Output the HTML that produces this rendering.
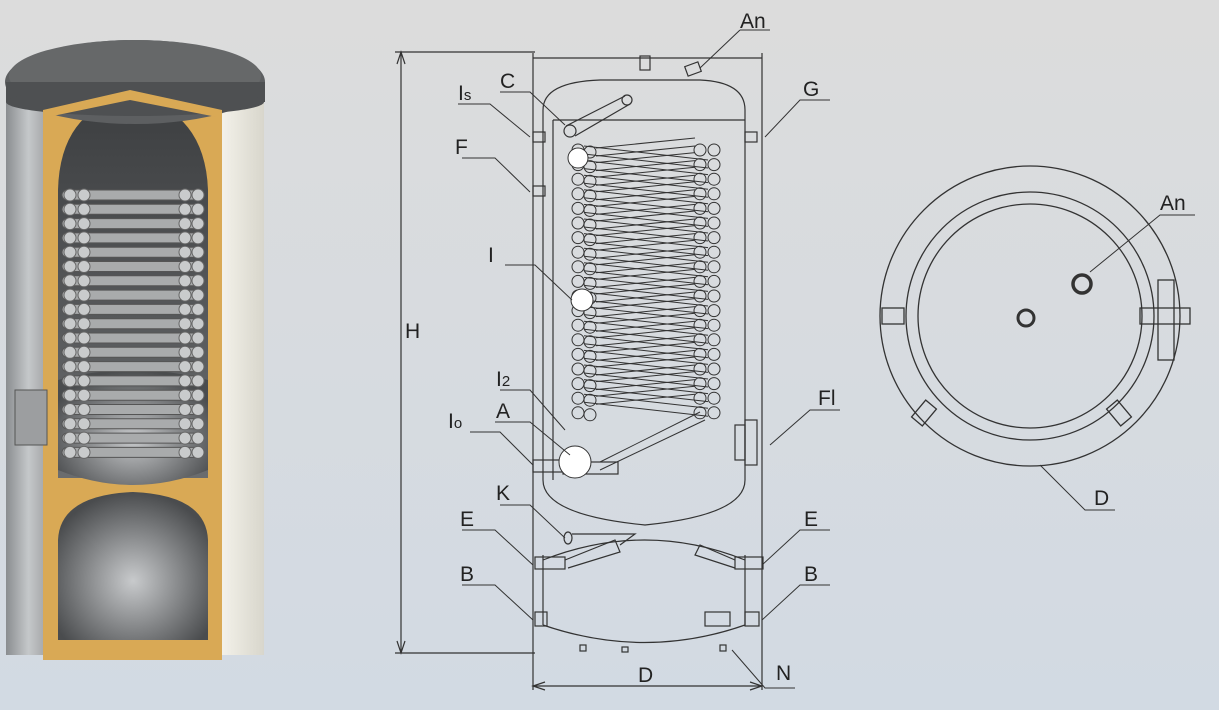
<!DOCTYPE html>
<html><head><meta charset="utf-8"><style>
html,body{margin:0;padding:0}
body{width:1219px;height:710px;overflow:hidden;background:linear-gradient(#dcdcdc,#d2dae3);font-family:"Liberation Sans",sans-serif}
svg{position:absolute;left:0;top:0}
text{font-family:"Liberation Sans",sans-serif;font-size:21px;fill:#222}
</style></head><body>
<svg width="1219" height="710" viewBox="0 0 1219 710" id="s">
<defs>
<linearGradient id="side" x1="0" x2="1"><stop offset="0" stop-color="#8a8d90"/><stop offset="0.5" stop-color="#c5c8ca"/><stop offset="1" stop-color="#9a9c9e"/></linearGradient>
<linearGradient id="white" x1="0" x2="1"><stop offset="0" stop-color="#f4f2ea"/><stop offset="1" stop-color="#d8d6cc"/></linearGradient>
<linearGradient id="cav" x1="0" x2="0" y1="0" y2="1"><stop offset="0" stop-color="#3c3e40"/><stop offset="1" stop-color="#6a6c6e"/></linearGradient>
<radialGradient id="dome" cx="0.5" cy="0.6" r="0.6"><stop offset="0" stop-color="#c8cacc"/><stop offset="1" stop-color="#4a4c4e"/></radialGradient>
</defs>
<!-- left 3D tank -->
<rect x="6" y="85" width="45" height="570" fill="url(#side)"/>
<rect x="220" y="85" width="44" height="570" fill="url(#white)"/>
<path d="M43 95 L130 80 L222 95 L222 660 L43 660 Z" fill="#d9a955"/>
<path d="M58 190 Q60 110 130 95 Q205 110 208 190 L208 478 L58 478 Z" fill="url(#cav)"/>
<path d="M58 380 Q133 360 208 380 L208 470 Q133 500 58 470 Z" fill="url(#dome)"/>
<path d="M58 540 Q60 495 133 492 Q206 495 208 540 L208 640 L58 640 Z" fill="url(#dome)"/>
<g id="coil3d"></g>
<rect x="15" y="390" width="32" height="55" fill="#9c9ea0" stroke="#555"/>
<ellipse cx="135" cy="82" rx="130" ry="42" fill="#5d5f61"/>
<ellipse cx="135" cy="76" rx="126" ry="36" fill="#666869"/>
<rect x="6" y="82" width="259" height="20" fill="#4e5052"/>
<ellipse cx="135" cy="102" rx="129" ry="14" fill="#4e5052"/>
<path d="M43 110 L130 90 L222 110 L222 118 L130 100 L43 118Z" fill="#d9a955"/>

<!-- middle drawing -->
<g fill="none" stroke="#333" stroke-width="1.2">
<line x1="395" y1="52" x2="535" y2="52"/><line x1="395" y1="653" x2="535" y2="653"/>
<line x1="401" y1="52" x2="401" y2="653"/>
<path d="M397 64 L401 52 L405 64 M397 641 L401 653 L405 641"/>
<line x1="533" y1="53" x2="533" y2="690"/><line x1="762" y1="53" x2="762" y2="690"/>
<line x1="533" y1="686" x2="762" y2="686"/>
<path d="M545 682 L533 686 L545 690 M750 682 L762 686 L750 690"/>
<path d="M533 58 L762 58"/>
<path d="M543 110 Q543 82 600 80 L700 80 Q745 82 745 110 L745 480 Q745 515 645 525 Q543 515 543 480 Z"/>
<line x1="553" y1="120" x2="553" y2="480"/>
<path d="M553 120 L745 120"/>
<path d="M543 560 Q645 520 745 560 M543 555 L543 625 M745 555 L745 625 M543 625 Q645 660 745 625"/>
<rect x="640" y="56" width="10" height="14"/><rect x="686" y="64" width="14" height="10" transform="rotate(-20 693 69)"/>
<rect x="533" y="132" width="12" height="10"/><rect x="745" y="132" width="12" height="10"/>
<rect x="533" y="186" width="12" height="10"/>
<rect x="533" y="460" width="30" height="12"/>
<circle cx="570" cy="131" r="6"/><path d="M566 126 L625 96 M575 136 L630 104"/><circle cx="627" cy="100" r="5"/>
<rect x="535" y="557" width="30" height="12"/><rect x="735" y="557" width="28" height="12"/>
<rect x="535" y="612" width="12" height="14"/><rect x="745" y="612" width="14" height="14"/>
<path d="M565 560 L615 540 L620 552 L568 568"/><path d="M735 560 L700 545 L695 555 L735 568"/>
<ellipse cx="568" cy="538" rx="4" ry="6"/><path d="M572 534 L635 534 L620 545"/>
<rect x="705" y="612" width="25" height="14"/>
<rect x="745" y="420" width="12" height="45"/><rect x="735" y="425" width="10" height="35"/>
<rect x="580" y="645" width="6" height="6"/><rect x="622" y="647" width="6" height="5"/><rect x="720" y="645" width="6" height="6"/>
<rect x="563" y="462" width="55" height="12"/>
</g>
<g id="coil" fill="none" stroke="#333" stroke-width="1"></g>
<circle cx="578" cy="158" r="10" fill="#fff" stroke="#333"/>
<circle cx="582" cy="300" r="11" fill="#fff" stroke="#333"/>
<circle cx="575" cy="462" r="16" fill="#fff" stroke="#333"/>

<!-- leaders -->
<g stroke="#333" stroke-width="1" fill="none">
<path d="M740 30 L770 30 M740 30 L700 68"/>
<path d="M458 104 L490 104 L530 137"/>
<path d="M500 92 L530 92 L565 125"/>
<path d="M830 100 L800 100 L765 137"/>
<path d="M462 158 L495 158 L530 192"/>
<path d="M505 265 L535 265 L572 300"/>
<path d="M500 390 L530 390 L565 430"/>
<path d="M495 422 L530 422 L570 455"/>
<path d="M470 432 L500 432 L533 465"/>
<path d="M500 505 L530 505 L565 538"/>
<path d="M462 530 L495 530 L533 565"/>
<path d="M830 530 L800 530 L762 565"/>
<path d="M462 585 L495 585 L533 620"/>
<path d="M830 585 L800 585 L762 620"/>
<path d="M795 688 L765 688 L732 650"/>
<path d="M840 410 L810 410 L770 445"/>
<path d="M1195 215 L1160 215 L1090 272"/>
<path d="M1115 510 L1085 510 L1040 465"/>
</g>
<g>
<text x="740" y="28">An</text><text x="458" y="100">I<tspan font-size="15">s</tspan></text><text x="500" y="88">C</text>
<text x="803" y="96">G</text><text x="455" y="154">F</text><text x="488" y="262">I</text>
<text x="496" y="386">I<tspan font-size="15">2</tspan></text><text x="496" y="418">A</text><text x="448" y="428">I<tspan font-size="15">o</tspan></text>
<text x="496" y="500">K</text><text x="460" y="526">E</text><text x="804" y="526">E</text>
<text x="460" y="581">B</text><text x="804" y="581">B</text><text x="776" y="680">N</text>
<text x="818" y="405">Fl</text><text x="405" y="338">H</text><text x="638" y="682">D</text>
<text x="1160" y="210">An</text><text x="1094" y="505">D</text>
</g>

<!-- right top view -->
<g fill="none" stroke="#333" stroke-width="1.3">
<circle cx="1030" cy="316" r="150"/>
<circle cx="1030" cy="316" r="124"/>
<circle cx="1030" cy="316" r="112"/>
<rect x="882" y="308" width="22" height="16"/><rect x="1140" y="308" width="50" height="16"/>
<rect x="917" y="402" width="14" height="22" transform="rotate(40 924 413)"/>
<rect x="1112" y="402" width="14" height="22" transform="rotate(-40 1119 413)"/>
<rect x="1158" y="280" width="16" height="80"/>
<circle cx="1026" cy="318" r="8" stroke-width="3"/>
<circle cx="1082" cy="284" r="9" stroke-width="3.5"/>
</g>
<script>
var ns="http://www.w3.org/2000/svg",g=document.getElementById('coil');
function el(t,a,p){var e=document.createElementNS(ns,t);for(var k in a)e.setAttribute(k,a[k]);(p||g).appendChild(e);return e;}
for(var i=0;i<19;i++){var y=150+i*14.6;
 el('circle',{cx:578,cy:y,r:6});el('circle',{cx:590,cy:y+2,r:6});
 el('circle',{cx:700,cy:y,r:6});el('circle',{cx:714,cy:y,r:6});
 if(i<18){el('line',{x1:584,y1:y-4,x2:708,y2:y+10});el('line',{x1:584,y1:y+4,x2:708,y2:y+18});
 el('line',{x1:596,y1:y+6,x2:695,y2:y-4});el('line',{x1:596,y1:y-2,x2:695,y2:y-12});}}
el('line',{x1:600,y1:470,x2:705,y2:420});el('line',{x1:600,y1:462,x2:700,y2:412});
var c=document.getElementById('coil3d');
for(var i=0;i<19;i++){var y=195+i*14.3;
 el('rect',{x:62,y:y-5,width:142,height:10,rx:5,fill:'#a9abac',stroke:'#555','stroke-width':1},c);
 [70,84,185,198].forEach(function(x){el('circle',{cx:x,cy:y,r:6,fill:'#c9cbcc',stroke:'#666'},c);});}
</script>
</svg>
</body></html>
